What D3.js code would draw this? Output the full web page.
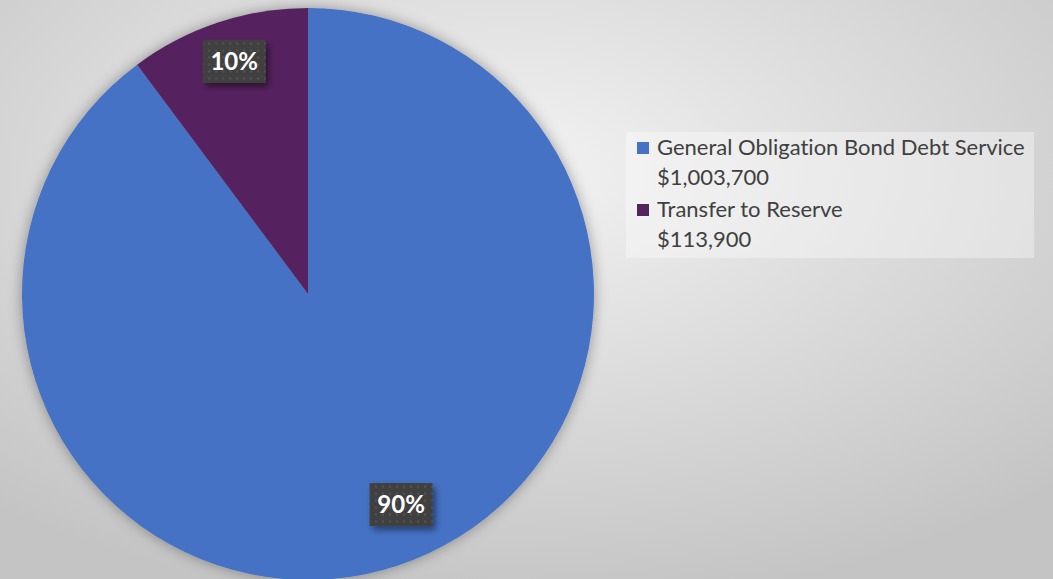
<!DOCTYPE html>
<html><head><meta charset="utf-8">
<script src="https://cdn.jsdelivr.net/npm/d3@7"></script>
<style>html,body{margin:0;padding:0;overflow:hidden;}svg{display:block;}text{font-variant-ligatures:none;font-feature-settings:"liga" 0,"clig" 0;}</style>
</head><body>
<svg id="chart" width="1053" height="579"></svg>
<script>
const categories = ["General Obligation Bond Debt Service", "Transfer to Reserve"];
const amounts = [1003700, 113900];
const amountLabels = ["$1,003,700", "$113,900"];
const colors = ["#4472C4", "#54245F"];

const W = 1053, H = 579;
const svg = d3.select("#chart");
const defs = svg.append("defs");

const bg = defs.append("radialGradient").attr("id","bg").attr("cx","48%").attr("cy","30%").attr("r","75%");
bg.append("stop").attr("offset","0%").attr("stop-color","#f3f3f3");
bg.append("stop").attr("offset","100%").attr("stop-color","#c4c4c4");

const sh = defs.append("filter").attr("id","pieShadow").attr("x","-20%").attr("y","-20%").attr("width","140%").attr("height","140%");
sh.append("feDropShadow").attr("dx",0).attr("dy",0).attr("stdDeviation",7).attr("flood-color","#000").attr("flood-opacity",0.35);

const lsh = defs.append("filter").attr("id","lblShadow").attr("x","-30%").attr("y","-30%").attr("width","170%").attr("height","170%");
lsh.append("feDropShadow").attr("dx",3).attr("dy",4).attr("stdDeviation",3).attr("flood-color","#000").attr("flood-opacity",0.45);

const pat = defs.append("pattern").attr("id","dots").attr("width",7).attr("height",7).attr("patternUnits","userSpaceOnUse");
pat.append("rect").attr("width",7).attr("height",7).attr("fill","#404040");
pat.append("rect").attr("x",2).attr("y",2).attr("width",2).attr("height",2).attr("fill","#545454");

svg.append("rect").attr("width",W).attr("height",H).attr("fill","url(#bg)");

const cx = 308, cy = 294, R = 286;
const pie = d3.pie().sort(null).value(d => d)(amounts);
const arc = d3.arc().innerRadius(0).outerRadius(R);
const g = svg.append("g").attr("transform", `translate(${cx},${cy})`);
g.append("g").attr("filter","url(#pieShadow)")
  .selectAll("path").data(pie).join("path")
  .attr("d", arc).attr("fill", (d,i) => colors[i]);

// label placement (best-fit style): fraction along slice and radius factor
const labelPlacement = [{frac: 0.483, rf: 0.805}, {frac: 0.52, rf: 0.853}];
const total = d3.sum(amounts);
const fmt = d3.format(".0%");
function labelPos(d, i) {
  const p = labelPlacement[i];
  const a = d.startAngle + p.frac * (d.endAngle - d.startAngle);
  const r = R * p.rf;
  return [r * Math.sin(a), -r * Math.cos(a)];
}
const lbl = g.selectAll("g.lbl").data(pie).join("g").attr("class","lbl")
  .attr("transform", (d,i) => `translate(${labelPos(d,i)})`);
lbl.append("rect").attr("x",-31.5).attr("y",-21.5).attr("width",63).attr("height",43)
  .attr("fill","url(#dots)").attr("filter","url(#lblShadow)");
lbl.append("text").attr("text-anchor","middle").attr("dy","0.36em")
  .attr("font-family","Lato, 'Open Sans', sans-serif").attr("font-weight","bold")
  .attr("font-size",24).attr("fill","#ffffff")
  .text(d => fmt(d.value/total));

// legend
const lg = svg.append("g");
lg.append("rect").attr("x",626).attr("y",132).attr("width",408).attr("height",126)
  .attr("fill","#ffffff").attr("fill-opacity",0.35);
const ly = d3.scaleBand().domain(categories).range([133, 257]);
const items = lg.selectAll("g.item").data(categories).join("g").attr("class","item")
  .attr("transform", d => `translate(637,${ly(d)})`);
items.append("rect").attr("x",0).attr("y",9).attr("width",12).attr("height",12)
  .attr("fill",(d,i)=>colors[i]);
const tf = "Lato, 'Open Sans', sans-serif";
items.append("text").attr("x",20).attr("y",22).attr("font-family",tf).attr("font-size",22)
  .attr("fill","#404040").text(d=>d);
items.append("text").attr("x",20).attr("y",52).attr("font-family",tf).attr("font-size",22)
  .attr("fill","#404040").text((d,i)=>amountLabels[i]);
</script>
</body></html>
